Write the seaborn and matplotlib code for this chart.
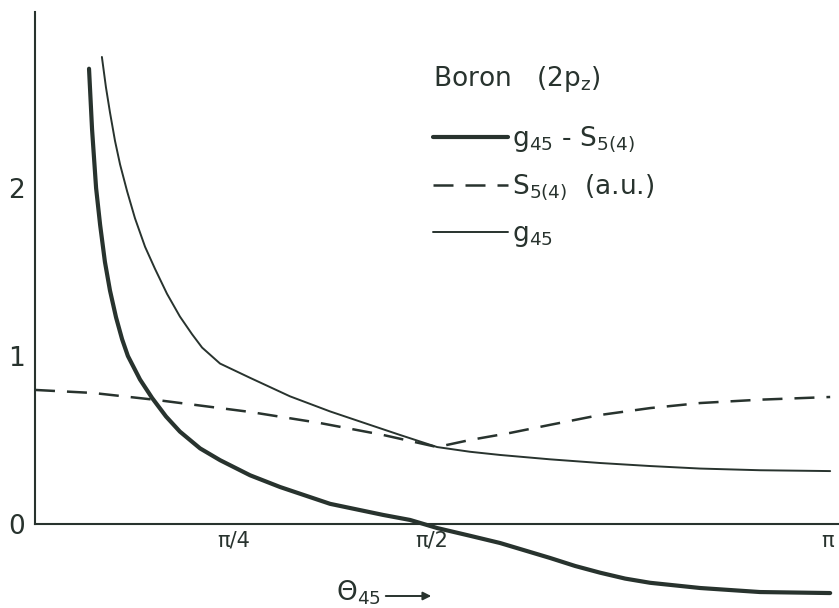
import numpy as np
import pandas as pd
import matplotlib
matplotlib.use("Agg")
import matplotlib.pyplot as plt
import seaborn as sns

# g45 - S5(4)  (thick line)
theta_diff = [0.214, 0.226, 0.242, 0.258, 0.277, 0.297, 0.321, 0.345, 0.368,
              0.416, 0.464, 0.519, 0.574, 0.654, 0.733, 0.852, 0.971, 1.169,
              1.379, 1.486, 1.593, 1.723, 1.842, 2.040, 2.140, 2.239, 2.338,
              2.437, 2.635, 2.872, 3.150]
g_minus_s = [2.71, 2.35, 2.00, 1.78, 1.56, 1.39, 1.23, 1.10, 1.00,
             0.86, 0.75, 0.64, 0.55, 0.45, 0.38, 0.29, 0.22, 0.12,
             0.054, 0.024, -0.024, -0.07, -0.113, -0.202, -0.250, -0.290, -0.325,
             -0.350, -0.381, -0.405, -0.411]

# S5(4) in arbitrary units (dashed line)
theta_s = [0.0, 0.230, 0.483, 0.852, 1.129, 1.379, 1.593, 1.723, 1.882,
           2.040, 2.239, 2.437, 2.635, 2.872, 3.150]
s_values = [0.798, 0.780, 0.738, 0.667, 0.601, 0.530, 0.458, 0.500, 0.542,
            0.590, 0.649, 0.690, 0.720, 0.740, 0.756]

# g45 (thin line)
theta_g = [0.265, 0.281, 0.297, 0.317, 0.337, 0.365, 0.396, 0.436, 0.475,
           0.523, 0.574, 0.622, 0.662, 0.733, 0.852, 1.010, 1.169, 1.327,
           1.446, 1.593, 1.723, 1.842, 2.040, 2.239, 2.437, 2.635, 2.872,
           3.150]
g_values = [2.78, 2.60, 2.45, 2.28, 2.14, 1.98, 1.82, 1.65, 1.52,
            1.37, 1.235, 1.13, 1.05, 0.955, 0.87, 0.76, 0.67, 0.59,
            0.53, 0.458, 0.43, 0.411, 0.385, 0.363, 0.345, 0.33, 0.32,
            0.315]

x_ticks = [np.pi / 4, np.pi / 2, np.pi]
x_ticklabels = ["π/4", "π/2", "π"]
y_ticks = [0, 1, 2]

INK = "#28332e"

sns.set_theme(style="white")
plt.rcParams["font.family"] = ["DejaVu Sans"]
plt.rcParams["mathtext.default"] = "regular"

W, H = 839, 608
fig = plt.figure(figsize=(W / 100, H / 100), dpi=100)
ax = fig.add_axes([35 / W, 0, 1 - 35 / W, 1])

df_diff = pd.DataFrame({"theta": theta_diff, "value": g_minus_s})
df_s = pd.DataFrame({"theta": theta_s, "value": s_values})
df_g = pd.DataFrame({"theta": theta_g, "value": g_values})

sns.lineplot(data=df_diff, x="theta", y="value", ax=ax, color=INK,
             linewidth=3.0, label=r"$g_{45}$ - $S_{5(4)}$")
sns.lineplot(data=df_s, x="theta", y="value", ax=ax, color=INK,
             linewidth=1.8, linestyle=(0, (8, 4.8)),
             label=r"$S_{5(4)}$  (a.u.)")
sns.lineplot(data=df_g, x="theta", y="value", ax=ax, color=INK,
             linewidth=1.4, label=r"$g_{45}$")

ax.set_xlim(0, 3.185)
ax.set_ylim(-0.5, 3.119)
ax.set_xlabel("")
ax.set_ylabel("")

for side in ("top", "right"):
    ax.spines[side].set_visible(False)
ax.spines["bottom"].set_position(("data", 0))
ax.spines["bottom"].set_bounds(0, 3.185)
ax.spines["left"].set_bounds(0, 3.048)
for side in ("bottom", "left"):
    ax.spines[side].set_color(INK)
    ax.spines[side].set_linewidth(1.5)

ax.set_xticks(x_ticks)
ax.set_xticklabels(x_ticklabels)
ax.set_yticks(y_ticks)
ax.tick_params(axis="x", length=0, pad=5, labelsize=15, colors=INK)
ax.tick_params(axis="y", length=0, pad=7, labelsize=19, colors=INK)

leg = ax.legend(loc="upper left", bbox_to_anchor=(433 / W, 1 - 64 / H),
                bbox_transform=fig.transFigure, frameon=False,
                title=r"Boron   (2p$_z$)", title_fontsize=19, fontsize=19,
                handlelength=2.85, handletextpad=0.15, labelspacing=0.7,
                alignment="left", borderaxespad=0, borderpad=0)
leg._legend_box.sep = 22
for txt in leg.get_texts():
    txt.set_color(INK)
leg.get_title().set_color(INK)

fig.text(336 / W, 1 - 593 / H, r"$\Theta_{45}$", fontsize=19, color=INK,
         va="center", ha="left")
ax.annotate("", xy=(434 / W, 1 - 596 / H), xytext=(383 / W, 1 - 596 / H),
            xycoords="figure fraction", textcoords="figure fraction",
            arrowprops=dict(arrowstyle="-|>", color=INK, lw=1.4,
                            mutation_scale=12))

fig.savefig("out.png", dpi=100, facecolor="white")
